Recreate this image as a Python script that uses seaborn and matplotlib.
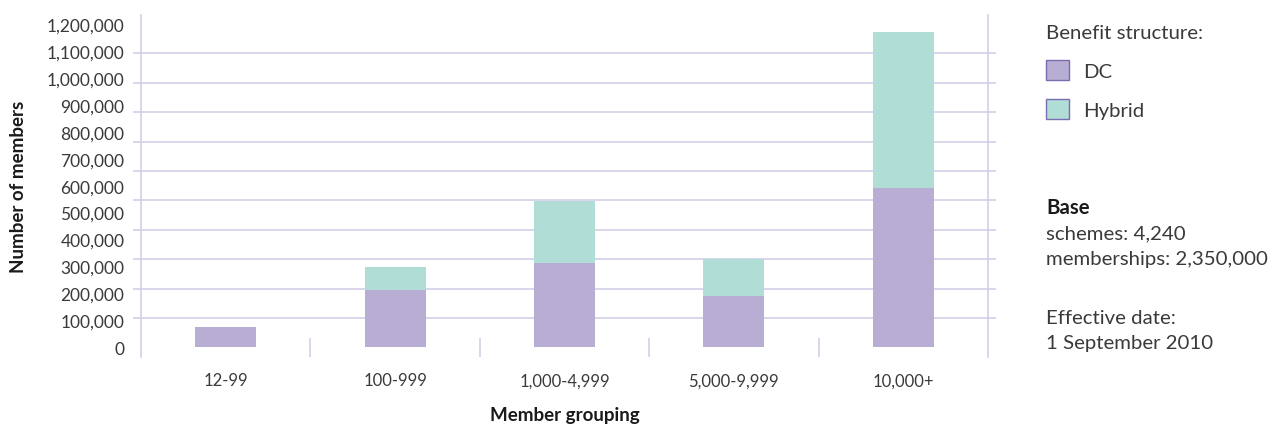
import numpy as np
import pandas as pd
import matplotlib
matplotlib.use("Agg")
import matplotlib.pyplot as plt
from matplotlib.patches import Patch
from matplotlib.ticker import FixedLocator, FuncFormatter
import seaborn as sns

# -----------------------------
# Data
# -----------------------------
groups = ["12-99", "100-999", "1,000-4,999", "5,000-9,999", "10,000+"]
dc_members = [74000, 213000, 313000, 190000, 591000]
hybrid_members = [0, 85000, 231000, 137000, 579000]
y_ticks = [0, 100000, 200000, 300000, 400000, 500000, 600000,
           700000, 800000, 900000, 1000000, 1100000, 1200000]
series_names = ["DC", "Hybrid"]
side_notes = ["schemes: 4,240", "memberships: 2,350,000"]
date_notes = ["Effective date:", "1 September 2010"]

DC_COL = "#b8aed4"
HYB_COL = "#b0ddd6"
GRID_COL = "#d3cfe9"
TXT_COL = "#3a3a3a"
BOLD_COL = "#1a1a1a"

sns.set_style("white")
plt.rcParams["font.family"] = ["Lato", "DejaVu Sans"]

df = pd.DataFrame({"group": groups, "dc": dc_members, "hybrid": hybrid_members})
df["total"] = df["dc"] + df["hybrid"]

fig = plt.figure(figsize=(12.75, 4.31), dpi=100)
ax = fig.add_axes([0.1106, 0.1694, 0.7749 - 0.1106, 0.9638 - 0.1694])

# stacked bars: total (hybrid colour) behind, DC in front
sns.barplot(data=df, x="group", y="total", color=HYB_COL, saturation=1,
            width=0.36, errorbar=None, linewidth=0, edgecolor="none",
            ax=ax, zorder=3)
sns.barplot(data=df, x="group", y="dc", color=DC_COL, saturation=1,
            width=0.36, errorbar=None, linewidth=0, edgecolor="none",
            ax=ax, zorder=4)

ax.set_xlim(-0.5, len(groups) - 0.5)
ax.set_ylim(-36000, 1235000)

# labels are on 100k steps, gridlines are spaced a bit wider in the original
ax.yaxis.set_major_locator(FixedLocator(y_ticks))
ax.yaxis.set_major_formatter(FuncFormatter(lambda v, p: f"{int(v):,}"))
ax.yaxis.set_minor_locator(FixedLocator(np.linspace(0, y_ticks[-1], 12)))
ax.grid(False)
ax.grid(which="minor", axis="y", color=GRID_COL, linewidth=1.2, zorder=1)
ax.tick_params(axis="y", which="major", length=0, pad=12, labelsize=12.5,
               labelcolor=TXT_COL)
ax.tick_params(axis="y", which="minor", length=6, width=1.2, color=GRID_COL,
               left=True, right=True, direction="out")
ax.tick_params(axis="x", length=0, pad=11, labelsize=12, labelcolor=TXT_COL)

# category separators on the baseline
ax.vlines(np.arange(0.5, len(groups) - 1, 1.0), -36000, 35000,
          color=GRID_COL, linewidth=1.2, zorder=2)

sns.despine(ax=ax, top=True, bottom=True, left=False, right=False)
for side in ["left", "right"]:
    ax.spines[side].set_color(GRID_COL)
    ax.spines[side].set_linewidth(1.2)

ax.set_xlabel("Member grouping", fontsize=13.5, fontweight="bold",
              color=BOLD_COL, labelpad=13)
ax.set_ylabel("Number of members", fontsize=13.5, fontweight="bold",
              color=BOLD_COL, labelpad=14)

# legend + side notes
FS = 14.7
handles = [Patch(facecolor=DC_COL, edgecolor="#7b6bb0", linewidth=1.0),
           Patch(facecolor=HYB_COL, edgecolor="#7b6bb0", linewidth=1.0)]
leg = fig.legend(handles, series_names, title="Benefit structure:",
                 loc="upper left", bbox_to_anchor=(1046 / 1275, 1 - 25 / 431),
                 frameon=False, fontsize=FS, title_fontsize=FS,
                 alignment="left", borderpad=0, borderaxespad=0,
                 handlelength=1.15, handleheight=1.15, handletextpad=0.65,
                 labelspacing=0.92)
for t in leg.get_texts():
    t.set_color(TXT_COL)
leg.get_title().set_color(TXT_COL)

x0 = 1046 / 1275
fig.text(x0, 1 - 208 / 431, "Base", fontsize=FS, fontweight="bold",
         color=BOLD_COL, va="center")
for txt, yp in zip(side_notes, [234, 260]):
    fig.text(x0, 1 - yp / 431, txt, fontsize=FS, color=TXT_COL, va="center")
for txt, yp in zip(date_notes, [318, 344]):
    fig.text(x0, 1 - yp / 431, txt, fontsize=FS, color=TXT_COL, va="center")

fig.savefig("out.png", dpi=100)
